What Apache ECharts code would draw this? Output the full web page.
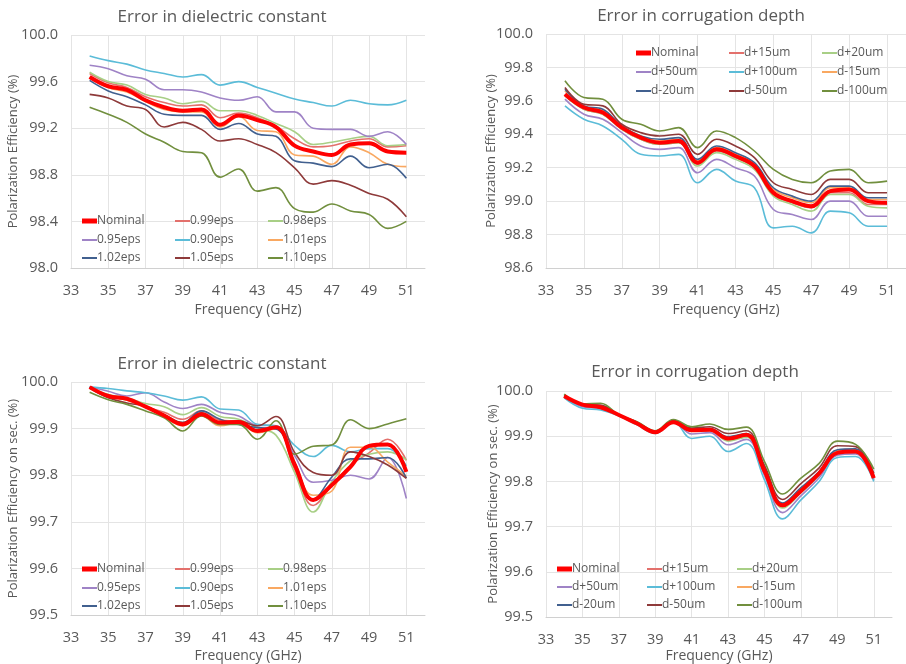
<!DOCTYPE html>
<html>
<head>
<meta charset="utf-8">
<script src="https://cdn.jsdelivr.net/npm/echarts@6/dist/echarts.min.js"></script>
<style>
  html, body { margin: 0; padding: 0; background: #ffffff; }
  #chart { width: 906px; height: 664px; }
</style>
</head>
<body>
<div id="chart"></div>
<script>
// Frequency samples (GHz)
const freqGHz = [34, 35, 36, 37, 38, 39, 40, 41, 42, 43, 44, 45, 46, 47, 48, 49, 50, 51];

// Series names
const dielectricNames = ['Nominal', '0.99eps', '0.98eps', '0.95eps', '0.90eps', '1.01eps', '1.02eps', '1.05eps', '1.10eps'];
const depthNames = ['Nominal', 'd+15um', 'd+20um', 'd+50um', 'd+100um', 'd-15um', 'd-20um', 'd-50um', 'd-100um'];

// Polarization efficiency (%) — nominal design
const effNominal = [99.64, 99.56, 99.53, 99.44, 99.38, 99.35, 99.36, 99.23, 99.31, 99.27, 99.21, 99.05, 99.00, 98.97, 99.06, 99.07, 99.00, 98.99];

// Polarization efficiency (%) — dielectric constant error
const effEps099 = [99.67, 99.59, 99.55, 99.47, 99.42, 99.39, 99.40, 99.29, 99.33, 99.29, 99.22, 99.11, 99.04, 99.05, 99.09, 99.11, 99.04, 99.05];
const effEps098 = [99.68, 99.60, 99.57, 99.49, 99.46, 99.41, 99.43, 99.35, 99.35, 99.31, 99.24, 99.17, 99.06, 99.08, 99.11, 99.13, 99.05, 99.06];
const effEps095 = [99.74, 99.71, 99.65, 99.62, 99.53, 99.53, 99.51, 99.46, 99.44, 99.47, 99.34, 99.34, 99.20, 99.19, 99.19, 99.13, 99.17, 99.06];
const effEps090 = [99.82, 99.78, 99.75, 99.70, 99.67, 99.64, 99.66, 99.57, 99.60, 99.55, 99.50, 99.45, 99.42, 99.39, 99.44, 99.41, 99.40, 99.44];
const effEps101 = [99.64, 99.55, 99.51, 99.43, 99.36, 99.34, 99.34, 99.21, 99.30, 99.18, 99.17, 98.97, 98.96, 98.89, 99.04, 98.99, 98.89, 98.87];
const effEps102 = [99.61, 99.52, 99.47, 99.40, 99.32, 99.31, 99.31, 99.19, 99.24, 99.15, 99.13, 98.92, 98.90, 98.87, 98.96, 98.86, 98.89, 98.77];
const effEps105 = [99.49, 99.46, 99.39, 99.36, 99.21, 99.25, 99.19, 99.09, 99.11, 99.06, 98.99, 98.86, 98.72, 98.75, 98.71, 98.64, 98.59, 98.44];
const effEps110 = [99.38, 99.32, 99.25, 99.15, 99.08, 99.00, 98.99, 98.78, 98.85, 98.66, 98.69, 98.51, 98.48, 98.55, 98.49, 98.46, 98.34, 98.40];

// Polarization efficiency (%) — corrugation depth error
const effDp15 = [99.64, 99.55, 99.52, 99.43, 99.37, 99.34, 99.35, 99.22, 99.30, 99.26, 99.20, 99.04, 98.99, 98.96, 99.05, 99.05, 98.98, 98.98];
const effDp20 = [99.63, 99.55, 99.52, 99.43, 99.37, 99.34, 99.35, 99.21, 99.29, 99.25, 99.19, 99.03, 98.98, 98.94, 99.04, 99.04, 98.97, 98.96];
const effDp50 = [99.61, 99.52, 99.49, 99.41, 99.33, 99.31, 99.32, 99.17, 99.25, 99.20, 99.15, 98.95, 98.92, 98.89, 99.00, 99.00, 98.91, 98.91];
const effDp100 = [99.57, 99.49, 99.45, 99.37, 99.28, 99.27, 99.28, 99.11, 99.19, 99.12, 99.08, 98.84, 98.85, 98.81, 98.94, 98.93, 98.85, 98.85];
const effDm15 = [99.66, 99.57, 99.54, 99.45, 99.39, 99.36, 99.37, 99.24, 99.32, 99.28, 99.22, 99.07, 99.02, 98.99, 99.08, 99.08, 99.01, 99.01];
const effDm20 = [99.67, 99.57, 99.55, 99.45, 99.39, 99.37, 99.38, 99.25, 99.33, 99.29, 99.23, 99.08, 99.03, 99.00, 99.09, 99.09, 99.02, 99.02];
const effDm50 = [99.68, 99.58, 99.57, 99.46, 99.41, 99.39, 99.40, 99.28, 99.37, 99.33, 99.26, 99.11, 99.07, 99.04, 99.13, 99.13, 99.05, 99.05];
const effDm100 = [99.72, 99.62, 99.61, 99.49, 99.46, 99.42, 99.44, 99.32, 99.42, 99.38, 99.30, 99.19, 99.13, 99.11, 99.18, 99.19, 99.11, 99.12];

// Polarization efficiency on secondary (%) — nominal design
const secNominal = [99.989, 99.970, 99.964, 99.947, 99.928, 99.909, 99.931, 99.913, 99.914, 99.895, 99.903, 99.823, 99.747, 99.779, 99.818, 99.863, 99.866, 99.807];

// Polarization efficiency on secondary (%) — dielectric constant error
const secEps099 = [99.989, 99.969, 99.962, 99.947, 99.935, 99.920, 99.938, 99.918, 99.916, 99.897, 99.899, 99.813, 99.735, 99.778, 99.821, 99.848, 99.877, 99.832];
const secEps098 = [99.988, 99.973, 99.966, 99.954, 99.947, 99.930, 99.945, 99.926, 99.920, 99.902, 99.886, 99.806, 99.721, 99.786, 99.831, 99.845, 99.850, 99.833];
const secEps095 = [99.990, 99.980, 99.970, 99.977, 99.957, 99.943, 99.952, 99.935, 99.927, 99.907, 99.906, 99.842, 99.785, 99.789, 99.800, 99.792, 99.838, 99.750];
const secEps090 = [99.989, 99.986, 99.981, 99.977, 99.970, 99.961, 99.968, 99.942, 99.940, 99.909, 99.906, 99.864, 99.840, 99.864, 99.850, 99.857, 99.857, 99.820];
const secEps101 = [99.989, 99.970, 99.961, 99.947, 99.925, 99.906, 99.927, 99.906, 99.913, 99.891, 99.900, 99.824, 99.757, 99.766, 99.860, 99.860, 99.828, 99.798];
const secEps102 = [99.989, 99.970, 99.965, 99.948, 99.926, 99.913, 99.938, 99.920, 99.909, 99.902, 99.899, 99.828, 99.748, 99.796, 99.835, 99.835, 99.838, 99.794];
const secEps105 = [99.987, 99.966, 99.955, 99.948, 99.930, 99.913, 99.934, 99.913, 99.916, 99.906, 99.926, 99.849, 99.806, 99.800, 99.850, 99.840, 99.822, 99.793];
const secEps110 = [99.978, 99.962, 99.952, 99.938, 99.923, 99.895, 99.927, 99.909, 99.909, 99.877, 99.917, 99.845, 99.862, 99.865, 99.919, 99.900, 99.910, 99.921];

// Polarization efficiency on secondary (%) — corrugation depth error
const secDp15 = [99.988, 99.968, 99.964, 99.947, 99.928, 99.909, 99.932, 99.912, 99.913, 99.891, 99.900, 99.821, 99.743, 99.777, 99.815, 99.863, 99.866, 99.807];
const secDp20 = [99.988, 99.967, 99.963, 99.946, 99.928, 99.909, 99.931, 99.911, 99.912, 99.889, 99.898, 99.819, 99.741, 99.775, 99.813, 99.862, 99.865, 99.806];
const secDp50 = [99.987, 99.965, 99.961, 99.946, 99.927, 99.908, 99.932, 99.905, 99.908, 99.881, 99.893, 99.813, 99.731, 99.768, 99.808, 99.858, 99.861, 99.803];
const secDp100 = [99.985, 99.962, 99.958, 99.945, 99.925, 99.906, 99.932, 99.895, 99.900, 99.866, 99.884, 99.803, 99.717, 99.759, 99.800, 99.853, 99.855, 99.800];
const secDm15 = [99.990, 99.970, 99.966, 99.947, 99.930, 99.910, 99.933, 99.915, 99.916, 99.898, 99.905, 99.827, 99.750, 99.784, 99.821, 99.868, 99.871, 99.811];
const secDm20 = [99.990, 99.970, 99.967, 99.947, 99.930, 99.910, 99.933, 99.916, 99.917, 99.899, 99.906, 99.829, 99.752, 99.786, 99.822, 99.870, 99.872, 99.812];
const secDm50 = [99.991, 99.970, 99.969, 99.947, 99.931, 99.911, 99.935, 99.918, 99.921, 99.906, 99.912, 99.835, 99.760, 99.795, 99.830, 99.879, 99.877, 99.818];
const secDm100 = [99.993, 99.971, 99.973, 99.947, 99.932, 99.912, 99.937, 99.921, 99.927, 99.915, 99.920, 99.844, 99.772, 99.807, 99.840, 99.889, 99.882, 99.827];

// Axis text
const xTitle = 'Frequency (GHz)';
const yTitleEff = 'Polarization Efficiency (%)';
const yTitleSec = 'Polarization Efficiency on sec. (%)';
const titleDielectric = 'Error in dielectric constant';
const titleDepth = 'Error in corrugation depth';

// ---------------------------------------------------------------
const FONT = '"Open Sans", "Noto Sans", sans-serif';
const TEXT = '#595959';
const seriesColors = ['#ff0000', '#e3706c', '#a8cf86', '#9f83c6', '#5bbcd8', '#f9a861', '#41608f', '#8e3a3a', '#718f3e'];

const panels = [
  {
    title: titleDielectric, titleX: 222, titleY: 17,
    grid: { left: 71, top: 35, width: 354, height: 233 },
    y: { min: 98.0, max: 100.0, interval: 0.4, name: yTitleEff, nameGap: 51 },
    xNameGap: 35,
    names: dielectricNames,
    values: [effNominal, effEps099, effEps098, effEps095, effEps090, effEps101, effEps102, effEps105, effEps110],
    legendX: [82, 175, 268], legendY: [221, 240, 258]
  },
  {
    title: titleDepth, titleX: 701, titleY: 16,
    grid: { left: 546, top: 34, width: 360, height: 234 },
    y: { min: 98.6, max: 100.0, interval: 0.2, name: yTitleEff, nameGap: 48 },
    xNameGap: 35,
    names: depthNames,
    values: [effNominal, effDp15, effDp20, effDp50, effDp100, effDm15, effDm20, effDm50, effDm100],
    legendX: [636, 729, 822], legendY: [53, 72, 91]
  },
  {
    title: titleDielectric, titleX: 222, titleY: 364,
    grid: { left: 71, top: 382, width: 354, height: 235 },
    y: { min: 99.5, max: 100.0, interval: 0.1, name: yTitleSec, nameGap: 51 },
    xNameGap: 34,
    names: dielectricNames,
    values: [secNominal, secEps099, secEps098, secEps095, secEps090, secEps101, secEps102, secEps105, secEps110],
    legendX: [82, 175, 268], legendY: [569, 588, 606]
  },
  {
    title: titleDepth, titleX: 695, titleY: 372,
    grid: { left: 546, top: 391, width: 346, height: 226 },
    y: { min: 99.5, max: 100.0, interval: 0.1, name: yTitleSec, nameGap: 46 },
    xNameGap: 32,
    names: depthNames,
    values: [secNominal, secDp15, secDp20, secDp50, secDp100, secDm15, secDm20, secDm50, secDm100],
    legendX: [557, 647, 737], legendY: [569, 587, 605]
  }
];

const grid = [], xAxis = [], yAxis = [], series = [], legend = [], graphic = [];

panels.forEach((p, pi) => {
  grid.push(Object.assign({ containLabel: false }, p.grid));

  xAxis.push({
    type: 'value', gridIndex: pi, min: 33, max: 52, interval: 2,
    name: xTitle, nameLocation: 'middle', nameGap: p.xNameGap, nameMoveOverlap: false,
    nameTextStyle: { color: TEXT, fontSize: 14, fontFamily: FONT },
    axisLine: { show: true, lineStyle: { color: '#d0d0d0', width: 1 } },
    axisTick: { show: false },
    axisLabel: { color: TEXT, fontSize: 14.5, fontFamily: FONT, margin: 15, showMaxLabel: false },
    splitLine: { show: true, showMaxLine: false, lineStyle: { color: '#e4e4e4', width: 1 } }
  });

  yAxis.push({
    type: 'value', gridIndex: pi, min: p.y.min, max: p.y.max, interval: p.y.interval,
    name: p.y.name, nameLocation: 'middle', nameGap: p.y.nameGap, nameRotate: 90, nameMoveOverlap: false,
    nameTextStyle: { color: TEXT, fontSize: 13, fontFamily: FONT },
    axisLine: { show: false },
    axisTick: { show: false },
    axisLabel: { color: TEXT, fontSize: 14.5, fontFamily: FONT, margin: 13, formatter: v => v.toFixed(1) },
    splitLine: { show: true, lineStyle: { color: '#e4e4e4', width: 1 } }
  });

  graphic.push({
    type: 'text', x: p.titleX, y: p.titleY, z: 10,
    style: { text: p.title, fill: TEXT, font: '17px ' + FONT, align: 'center', verticalAlign: 'middle' }
  });

  p.names.forEach((name, si) => {
    const isNominal = si === 0;
    series.push({
      type: 'line', name: name, xAxisIndex: pi, yAxisIndex: pi,
      data: freqGHz.map((f, k) => [f, p.values[si][k]]),
      smooth: 0.4, symbol: 'none', animation: false,
      z: isNominal ? 4 : 2,
      color: seriesColors[si],
      lineStyle: { color: seriesColors[si], width: isNominal ? 4 : 1.6 },
      emphasis: { disabled: true }
    });

    const col = si % 3, row = Math.floor(si / 3);
    legend.push({
      data: [{ name: name, icon: 'rect' }], selectedMode: false, padding: 0,
      left: p.legendX[col], top: p.legendY[row] - 7,
      itemWidth: 15, itemHeight: isNominal ? 5 : 2, itemGap: 0,
      itemStyle: { color: seriesColors[si], borderWidth: 0 },
      textStyle: { color: TEXT, fontSize: 12, fontFamily: FONT, padding: [0, 0, 0, -5], lineHeight: 14 }
    });
  });
});

const chart = echarts.init(document.getElementById('chart'), null, { renderer: 'canvas' });
chart.setOption({
  backgroundColor: '#ffffff',
  animation: false,
  grid, xAxis, yAxis, series, legend, graphic
});
</script>
</body>
</html>
